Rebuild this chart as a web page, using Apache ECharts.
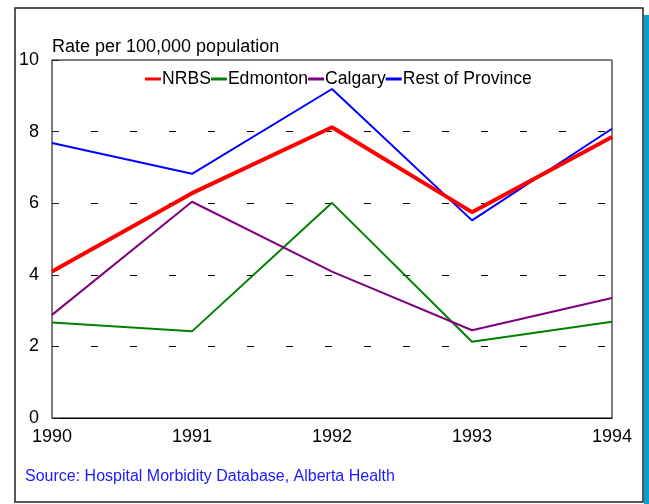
<!DOCTYPE html>
<html>
<head>
<meta charset="utf-8">
<script src="https://cdn.jsdelivr.net/npm/echarts@6/dist/echarts.min.js"></script>
<style>
  html, body { margin: 0; padding: 0; background: #fff; }
  #chart { width: 649px; height: 504px; }
</style>
</head>
<body>
<div id="chart"></div>
<script>
// Hospitalization rates by region, 1990-1994
const years = ['1990', '1991', '1992', '1993', '1994'];
const yTicks = [0, 2, 4, 6, 8, 10];
const nrbs = [4.09, 6.28, 8.12, 5.75, 7.85];
const edmonton = [2.67, 2.42, 6.01, 2.13, 2.69];
const calgary = [2.88, 6.04, 4.09, 2.45, 3.35];
const restOfProvince = [7.68, 6.82, 9.19, 5.52, 8.08];

const font = 'Liberation Sans, Arial, sans-serif';
const chart = echarts.init(document.getElementById('chart'), null, { renderer: 'canvas' });

function lineSeries(name, data, color, width) {
  return {
    name: name,
    type: 'line',
    data: data,
    symbol: 'none',
    color: color,
    lineStyle: { color: color, width: width },
    z: width > 3 ? 4 : 3
  };
}

chart.setOption({
  animation: false,
  backgroundColor: '#fff',
  textStyle: { fontFamily: font },
  grid: {
    left: 52, right: 37, top: 60, bottom: 86,
    show: true, borderColor: '#000', borderWidth: 1
  },
  legend: {
    top: 70,
    left: 145,
    padding: 0,
    itemWidth: 16,
    itemHeight: 3,
    itemGap: 0,
    icon: 'rect',
    textStyle: { fontSize: 17.6, color: '#000', fontFamily: font, padding: [0, 0, 0, -4] },
    data: ['NRBS', 'Edmonton', 'Calgary', 'Rest of Province']
  },
  xAxis: [{
    type: 'category',
    data: years,
    boundaryGap: false,
    axisLine: { lineStyle: { color: '#000', width: 1 } },
    axisTick: { show: false },
    axisLabel: { fontSize: 18, color: '#000', margin: 10, fontFamily: font },
    splitLine: { show: false }
  }, {
    type: 'category',
    data: years,
    position: 'top',
    boundaryGap: false,
    axisLine: { lineStyle: { color: '#777', width: 1 } },
    axisTick: { show: false },
    axisLabel: { show: false }
  }],
  yAxis: {
    type: 'value',
    min: yTicks[0],
    max: yTicks[yTicks.length - 1],
    interval: 2,
    name: 'Rate per 100,000 population',
    nameLocation: 'end',
    nameGap: 4,
    nameTextStyle: { fontSize: 18, color: '#000', align: 'left', fontFamily: font },
    axisLine: { show: true, lineStyle: { color: '#777', width: 1 } },
    axisTick: { show: true, inside: true, length: 7, lineStyle: { color: '#222' } },
    axisLabel: { fontSize: 18, color: '#000', margin: 13, fontFamily: font },
    splitLine: {
      show: true,
      lineStyle: { color: '#000', width: 1, type: [7, 32], dashOffset: 0 }
    }
  },
  series: [
    lineSeries('NRBS', nrbs, '#ff0000', 4),
    lineSeries('Edmonton', edmonton, '#008000', 2),
    lineSeries('Calgary', calgary, '#800080', 2),
    lineSeries('Rest of Province', restOfProvince, '#0000ff', 2)
  ],
  graphic: [
    {
      type: 'rect',
      shape: { x: 15, y: 8, width: 628, height: 494 },
      style: { fill: 'none', stroke: '#222', lineWidth: 1.5 },
      silent: true, z: 0
    },
    {
      type: 'rect',
      shape: { x: 644, y: 15, width: 5, height: 489 },
      style: { fill: '#0aa0c8' },
      silent: true, z: 0
    },
    {
      type: 'text',
      left: 25, top: 469,
      style: {
        text: 'Source: Hospital Morbidity Database, Alberta Health',
        fill: '#1a1aff', fontSize: 16, fontFamily: font
      }
    }
  ]
});
</script>
</body>
</html>
